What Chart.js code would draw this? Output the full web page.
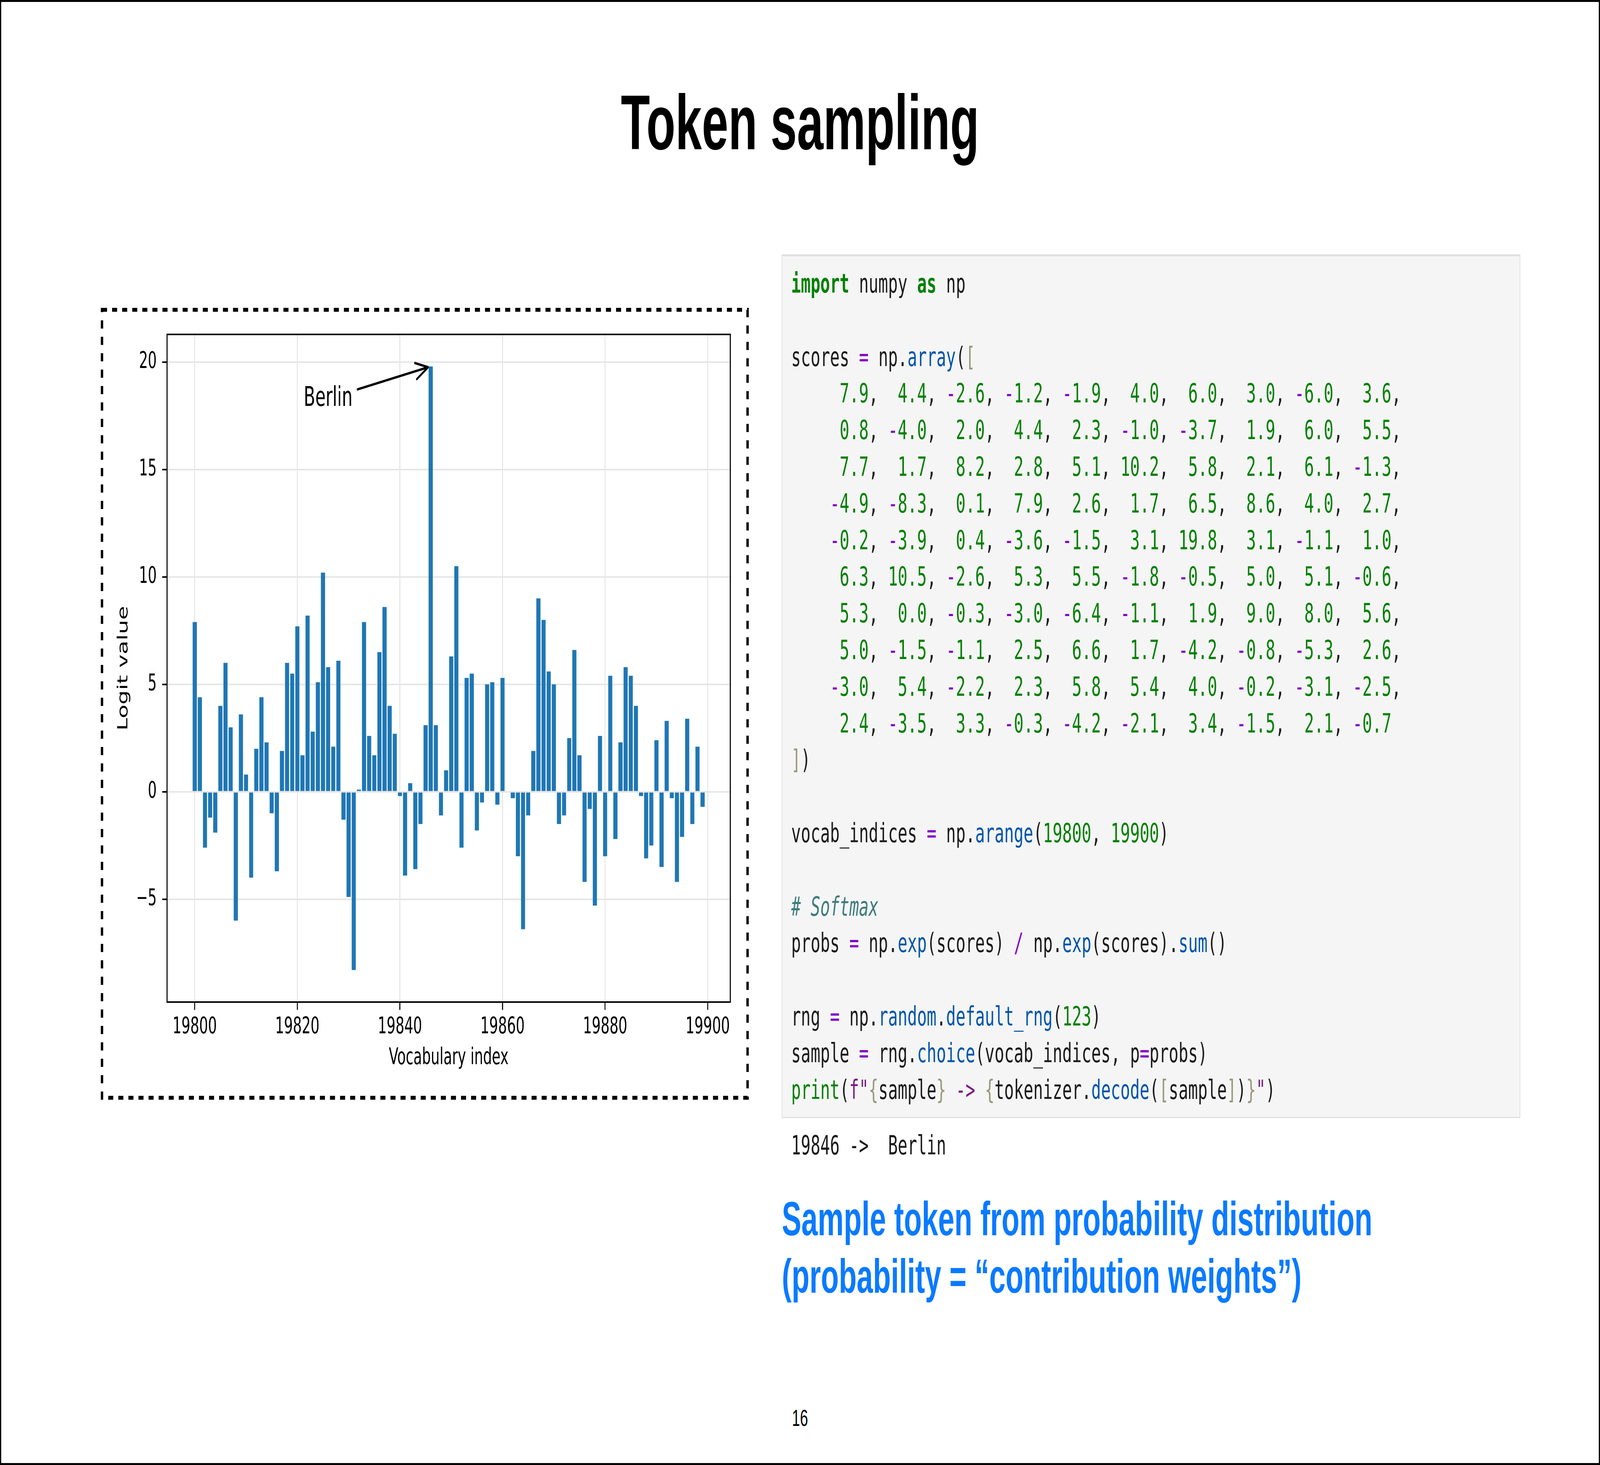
<!DOCTYPE html>
<html>
<head>
<meta charset="utf-8">
<title>Token sampling</title>
<script src="https://cdn.jsdelivr.net/npm/chart.js@4.4.1/dist/chart.umd.min.js"></script>
<style>
  html, body { margin: 0; padding: 0; background: #fff; overflow: hidden; }
  #page { position: relative; width: 6667px; height: 3750px; overflow: hidden; background: #fff;
          font-family: "Liberation Sans", Arial, sans-serif; transform-origin: 0 0; }
  #frame { position: absolute; left: 0; top: 0; width: 6667px; height: 3750px; box-sizing: border-box;
           border: 5px solid #000; pointer-events: none; }
  #title { position: absolute; left: 0; top: 215px; width: 6667px; text-align: center;
           font-size: 198px; line-height: 198px; font-weight: bold; color: #000; }
  #dash { position: absolute; left: 0; top: 0; pointer-events: none; }
  #chart-box { position: absolute; left: 440px; top: 800px; width: 2660px; height: 2000px; }
  #code { position: absolute; left: 3257px; top: 651px; width: 3078px; height: 2211px; box-sizing: border-box;
          background: #f5f5f5; border: 3px solid #e0e0e0; border-top-width: 5px; padding: 24px 0 0 37px; }
  pre { margin: 0; font-family: "DejaVu Sans Mono", "Liberation Mono", monospace; font-size: 67px;
        line-height: 93.8px; color: #1a1a1a; }
  #out { position: absolute; left: 3297px; top: 2886px; }
  .kw { color: #008000; font-weight: bold; }
  .bi { color: #008000; }
  .nu { color: #008000; }
  .op { color: #8200c8; }
  .fn { color: #0055aa; }
  .br { color: #999977; }
  .st { color: #7a1a82; }
  .cm { color: #3d7b7b; font-style: italic; }
  #note { position: absolute; left: 3258px; top: 3047px; font-size: 122px; line-height: 147px;
          font-weight: bold; color: #0a7aff; white-space: nowrap; }
  #pnum { position: absolute; left: 0; top: 3600px; width: 6667px; text-align: center;
          font-size: 60px; line-height: 60px; color: #000; }
</style>
</head>
<body>
<div id="page">
  <div id="title">Token sampling</div>

  <svg id="dash" width="6667" height="3750">
    <rect x="425" y="793" width="2690" height="2017" fill="none" stroke="#000"
          stroke-width="10" stroke-dasharray="21 21"></rect>
  </svg>

  <div id="chart-box"><canvas id="logits" width="2660" height="2000"></canvas></div>

  <div id="code"><pre id="code-text"></pre></div>
  <pre id="out">19846 -&gt;  Berlin</pre>

  <div id="note">Sample token from probability distribution<br>(probability = “contribution weights”)</div>
  <div id="pnum">16</div>
  <div id="frame"></div>
</div>

<script>
// ── Dados ────────────────────────────────────────────────────────────────
const vocabIndices = [
  19800, 19801, 19802, 19803, 19804, 19805, 19806, 19807, 19808, 19809,
  19810, 19811, 19812, 19813, 19814, 19815, 19816, 19817, 19818, 19819,
  19820, 19821, 19822, 19823, 19824, 19825, 19826, 19827, 19828, 19829,
  19830, 19831, 19832, 19833, 19834, 19835, 19836, 19837, 19838, 19839,
  19840, 19841, 19842, 19843, 19844, 19845, 19846, 19847, 19848, 19849,
  19850, 19851, 19852, 19853, 19854, 19855, 19856, 19857, 19858, 19859,
  19860, 19861, 19862, 19863, 19864, 19865, 19866, 19867, 19868, 19869,
  19870, 19871, 19872, 19873, 19874, 19875, 19876, 19877, 19878, 19879,
  19880, 19881, 19882, 19883, 19884, 19885, 19886, 19887, 19888, 19889,
  19890, 19891, 19892, 19893, 19894, 19895, 19896, 19897, 19898, 19899,
];

const scores = [
   7.9,  4.4, -2.6, -1.2, -1.9,  4.0,  6.0,  3.0, -6.0,  3.6,
   0.8, -4.0,  2.0,  4.4,  2.3, -1.0, -3.7,  1.9,  6.0,  5.5,
   7.7,  1.7,  8.2,  2.8,  5.1, 10.2,  5.8,  2.1,  6.1, -1.3,
  -4.9, -8.3,  0.1,  7.9,  2.6,  1.7,  6.5,  8.6,  4.0,  2.7,
  -0.2, -3.9,  0.4, -3.6, -1.5,  3.1, 19.8,  3.1, -1.1,  1.0,
   6.3, 10.5, -2.6,  5.3,  5.5, -1.8, -0.5,  5.0,  5.1, -0.6,
   5.3,  0.0, -0.3, -3.0, -6.4, -1.1,  1.9,  9.0,  8.0,  5.6,
   5.0, -1.5, -1.1,  2.5,  6.6,  1.7, -4.2, -0.8, -5.3,  2.6,
  -3.0,  5.4, -2.2,  2.3,  5.8,  5.4,  4.0, -0.2, -3.1, -2.5,
   2.4, -3.5,  3.3, -0.3, -4.2, -2.1,  3.4, -1.5,  2.1, -0.7,
];

const xTickValues = [19800, 19820, 19840, 19860, 19880, 19900];
const yTickValues = [-5, 0, 5, 10, 15, 20];
const yTickLabels = ["\u22125", "0", "5", "10", "15", "20"];

const annotLabel = "Berlin";

// ── Estilo ───────────────────────────────────────────────────────────────
const BAR_COLOR  = "#1f77b4";
const GRID_COLOR = "#e6e6e6";
const MPL_FONT   = '"DejaVu Sans", "Liberation Sans", sans-serif';
const X_RANGE    = { min: 19794.6, max: 19904.4 };
const Y_RANGE    = { min: -9.79, max: 21.29 };
const ANNOT_AT   = { x: 19826, y: 18.3 };   // posição do texto (coords. de dados)

// a página é desenhada em 6667x3750 e ajustada à janela real
function fitPage() {
  const page = document.getElementById("page");
  const sx = window.innerWidth / 6667, sy = window.innerHeight / 3750;
  if (Math.abs(sx - 1) > 0.001 || Math.abs(sy - 1) > 0.001) {
    page.style.transform = `scale(${sx}, ${sy})`;
  }
}

// ── Bloco de código (texto gerado a partir dos scores) ───────────────────
const sp = (cls, txt) => `<span class="${cls}">${txt}</span>`;

function fmtScore(v) {
  const s = Math.abs(v).toFixed(1);
  const raw = (v < 0 ? "-" : "") + s;
  const pad = " ".repeat(Math.max(0, 4 - raw.length));
  return pad + (v < 0 ? sp("op", "-") : "") + sp("nu", s);
}

function buildCode() {
  const lines = [];
  lines.push(sp("kw", "import") + " numpy " + sp("kw", "as") + " np");
  lines.push("");
  lines.push("scores " + sp("op", "=") + " np." + sp("fn", "array") + "(" + sp("br", "["));
  for (let r = 0; r < scores.length / 10; r++) {
    const row = scores.slice(r * 10, r * 10 + 10).map(fmtScore).join(", ");
    lines.push("    " + row + (r < scores.length / 10 - 1 ? "," : ""));
  }
  lines.push(sp("br", "]") + ")");
  lines.push("");
  lines.push("vocab_indices " + sp("op", "=") + " np." + sp("fn", "arange") + "(" +
             sp("nu", "19800") + ", " + sp("nu", "19900") + ")");
  lines.push("");
  lines.push(sp("cm", "# Softmax"));
  lines.push("probs " + sp("op", "=") + " np." + sp("fn", "exp") + "(scores) " + sp("op", "/") +
             " np." + sp("fn", "exp") + "(scores)." + sp("fn", "sum") + "()");
  lines.push("");
  lines.push("rng " + sp("op", "=") + " np." + sp("fn", "random") + "." + sp("fn", "default_rng") +
             "(" + sp("nu", "123") + ")");
  lines.push("sample " + sp("op", "=") + " rng." + sp("fn", "choice") + "(vocab_indices, p" +
             sp("op", "=") + "probs)");
  lines.push(sp("bi", "print") + "(" + sp("st", 'f"') + sp("br", "{") + "sample" + sp("br", "}") +
             sp("st", " -&gt; ") + sp("br", "{") + "tokenizer." + sp("fn", "decode") + "(" +
             sp("br", "[") + "sample" + sp("br", "]") + ")" + sp("br", "}") + sp("st", '"') + ")");
  document.getElementById("code-text").innerHTML = lines.join("\n");
}

// ── Plugins ──────────────────────────────────────────────────────────────
const axesFrame = {
  id: "axesFrame",
  afterDatasetsDraw(chart) {
    const { ctx, chartArea: a } = chart;
    ctx.save();
    ctx.strokeStyle = "#000";
    ctx.lineWidth = 4;
    ctx.strokeRect(a.left, a.top, a.right - a.left, a.bottom - a.top);
    ctx.restore();
  },
};

// seta "Berlin" -> barra mais alta (como plt.annotate com arrowstyle "->")
const peakAnnotation = {
  id: "peakAnnotation",
  afterDatasetsDraw(chart) {
    const { ctx } = chart;
    const xs = chart.scales.x, ys = chart.scales.y;
    const peak = scores.indexOf(Math.max(...scores));
    const tx = xs.getPixelForValue(vocabIndices[peak]);
    const ty = ys.getPixelForValue(scores[peak]);
    const cx = xs.getPixelForValue(ANNOT_AT.x);
    const cy = ys.getPixelForValue(ANNOT_AT.y);

    ctx.save();
    ctx.font = `70px ${MPL_FONT}`;
    ctx.fillStyle = "#000";
    ctx.textAlign = "center";
    ctx.textBaseline = "middle";
    ctx.fillText(annotLabel, cx, cy);

    const hw = ctx.measureText(annotLabel).width / 2 + 10;
    const hh = 45;
    const dx = tx - cx, dy = ty - cy;
    const len = Math.hypot(dx, dy);
    const ux = dx / len, uy = dy / len;
    const t = Math.min(hw / Math.abs(dx), hh / Math.abs(dy));
    const sx = cx + dx * t + ux * 11, sy = cy + dy * t + uy * 11;
    const ex = tx - ux * 11, ey = ty - uy * 11;

    ctx.strokeStyle = "#000";
    ctx.lineWidth = 6;
    ctx.lineCap = "round";
    ctx.lineJoin = "round";
    ctx.beginPath();
    ctx.moveTo(sx, sy);
    ctx.lineTo(ex, ey);
    // cabeça aberta
    const hl = 52, hwid = 21;
    const bx = ex - ux * hl, by = ey - uy * hl;
    ctx.moveTo(bx - uy * hwid, by + ux * hwid);
    ctx.lineTo(ex, ey);
    ctx.lineTo(bx + uy * hwid, by - ux * hwid);
    ctx.stroke();
    ctx.restore();
  },
};

// ── Gráfico ──────────────────────────────────────────────────────────────
function drawLogits() {
  const tickFont  = { family: MPL_FONT, size: 58 };
  const titleFont = { family: MPL_FONT, size: 58 };

  new Chart(document.getElementById("logits").getContext("2d"), {
    type: "bar",
    data: {
      datasets: [{
        data: vocabIndices.map((x, i) => ({ x, y: scores[i] })),
        backgroundColor: BAR_COLOR,
        borderWidth: 0,
        barPercentage: 0.8,
        categoryPercentage: 1.0,
      }],
    },
    options: {
      responsive: false,
      animation: false,
      devicePixelRatio: 1,
      layout: { padding: { top: 56, right: 57, left: 0, bottom: 0 } },
      plugins: { legend: { display: false }, tooltip: { enabled: false } },
      scales: {
        x: {
          type: "linear",
          min: X_RANGE.min,
          max: X_RANGE.max,
          offset: false,
          afterBuildTicks: (s) => { s.ticks = xTickValues.map((v) => ({ value: v })); },
          afterFit: (s) => { s.height = 235; },
          ticks: { autoSkip: false, maxRotation: 0, padding: 10, color: "#000", font: tickFont,
                   callback: (v) => String(v) },
          grid: { offset: false, color: GRID_COLOR, lineWidth: 4, drawTicks: true,
                  tickColor: "#000", tickWidth: 4, tickLength: 20 },
          border: { display: false },
          title: { display: true, text: "Vocabulary index", color: "#000", font: titleFont,
                   padding: { top: 0, bottom: 56 } },
        },
        y: {
          type: "linear",
          min: Y_RANGE.min,
          max: Y_RANGE.max,
          afterBuildTicks: (s) => { s.ticks = yTickValues.map((v) => ({ value: v })); },
          afterFit: (s) => { s.width = 256; },
          ticks: { autoSkip: false, padding: 23, color: "#000", font: { ...tickFont, lineHeight: 1 },
                   callback: (v, i) => yTickLabels[i] },
          grid: { color: GRID_COLOR, lineWidth: 4, drawTicks: true,
                  tickColor: "#000", tickWidth: 4, tickLength: 20 },
          border: { display: false },
          title: { display: true, text: "Logit value", color: "#000", font: titleFont,
                   padding: { top: 41, bottom: 0 } },
        },
      },
    },
    plugins: [axesFrame, peakAnnotation],
  });
}

buildCode();
drawLogits();
fitPage();
</script>
</body>
</html>
